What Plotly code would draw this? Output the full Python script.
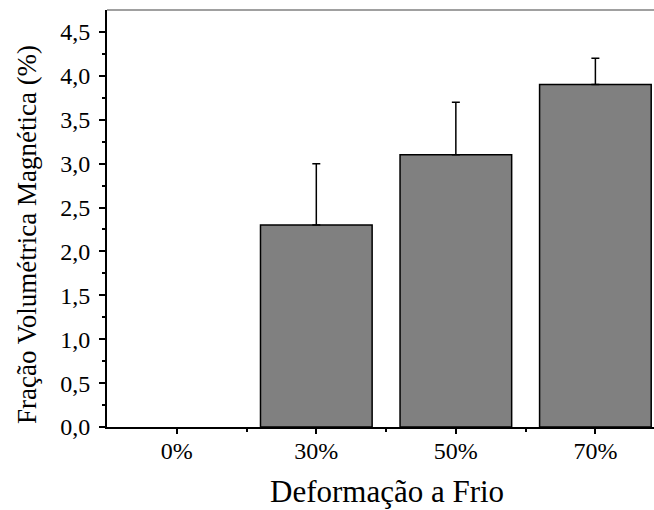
import plotly.graph_objects as go

categories = ["0%", "30%", "50%", "70%"]
values = [0.0, 2.3, 3.1, 3.9]
errors_up = [0.0, 0.7, 0.6, 0.3]
y_tickvals = [0, 0.5, 1.0, 1.5, 2.0, 2.5, 3.0, 3.5, 4.0, 4.5]
y_ticktext = ["0,0", "0,5", "1,0", "1,5", "2,0", "2,5", "3,0", "3,5", "4,0", "4,5"]
x_positions = [0, 1, 2, 3]
x_title = "Deformação a Frio"
y_title = "Fração Volumétrica Magnética (%)"

FONT = "Liberation Serif"
W, H = 654, 510
L, T, B = 107, 10, 83
PW = W - L
PH = H - T - B

def px_x(page_x):
    return (page_x - L) / PW

def px_y(page_y):
    return (H - B - page_y) / PH

fig = go.Figure()
fig.add_trace(go.Bar(
    x=x_positions, y=[v if v > 0 else None for v in values], width=0.8,
    marker=dict(color="#808080", line=dict(color="black", width=1.5)),
    error_y=dict(type="data", symmetric=False,
                 array=[e if e > 0 else None for e in errors_up],
                 arrayminus=[0 if e > 0 else None for e in errors_up],
                 color="black", thickness=1.5, width=4),
    showlegend=False,
))

fig.update_layout(
    width=W, height=H,
    margin=dict(l=L, r=0, t=T, b=B, autoexpand=False),
    paper_bgcolor="white", plot_bgcolor="white",
    font=dict(family=FONT, color="black", size=24),
    xaxis=dict(
        range=[-0.5, 3.42], tickvals=x_positions, ticktext=categories,
        showline=True, linecolor="black", linewidth=2,
        ticks="outside", ticklen=5, tickwidth=1.5, tickcolor="black",
        minor=dict(tickvals=[0.5, 1.5, 2.5], ticks="outside", ticklen=3,
                   tickwidth=1.5, tickcolor="black"),
        showgrid=False, zeroline=False, automargin=False,
        ticklabelstandoff=-4,
        tickfont=dict(size=24, family=FONT),
    ),
    yaxis=dict(
        range=[0, 4.75], tickvals=y_tickvals, ticktext=y_ticktext,
        showline=True, linecolor="black", linewidth=2,
        ticks="outside", ticklen=6, tickwidth=1.5, tickcolor="black",
        minor=dict(tickvals=[0.25, 0.75, 1.25, 1.75, 2.25, 2.75, 3.25, 3.75, 4.25],
                   ticks="outside", ticklen=3, tickwidth=1.5, tickcolor="black"),
        showgrid=False, zeroline=False, automargin=False,
        ticklabelstandoff=4,
        tickfont=dict(size=24, family=FONT),
    ),
    shapes=[dict(type="line", xref="paper", yref="paper", x0=0, x1=1, y0=1, y1=1,
                 line=dict(color="#808080", width=1.5))],
    annotations=[
        dict(text=x_title, xref="paper", yref="paper", x=px_x(387), y=px_y(491),
             xanchor="center", yanchor="middle", showarrow=False,
             font=dict(size=31, family=FONT, color="black")),
        dict(text=y_title, xref="paper", yref="paper", x=px_x(27), y=px_y(235),
             xanchor="center", yanchor="middle", showarrow=False, textangle=-90,
             font=dict(size=27, family=FONT, color="black")),
    ],
)

fig.write_html(
    "out.html",
    config={"displayModeBar": False},
    post_script="document.body.style.margin='0px';document.body.style.overflow='hidden';",
)
